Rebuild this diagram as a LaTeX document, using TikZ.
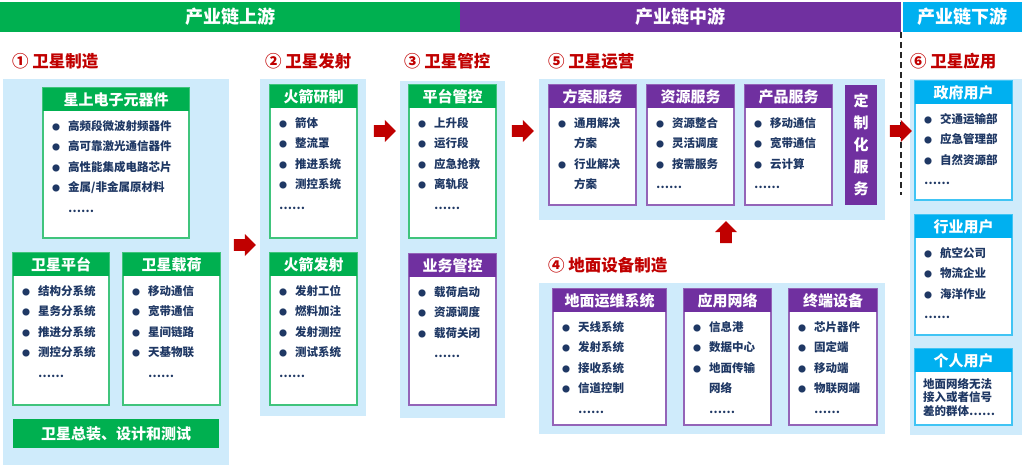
\documentclass[tikz,border=0pt]{standalone}
\usepackage{fontspec}
\setmainfont{Noto Sans CJK SC}
\usetikzlibrary{shapes.arrows}
\definecolor{cgreen}{HTML}{00B050}
\definecolor{cpurple}{HTML}{7030A0}
\definecolor{ccyan}{HTML}{00B0F0}
\definecolor{clight}{HTML}{CFEBFB}
\definecolor{cred}{HTML}{C00000}
\definecolor{cnavy}{HTML}{1F3864}
\newcommand\bul{\makebox[16pt][l]{\fontsize{8}{8}\selectfont ●}}
\newcommand\ind{\hspace*{16pt}}
\newcommand\cbox[8]{%
  \draw[#6!75, line width=1.3pt, fill=white] (#2,#3) rectangle (#4,#5);
  \fill[#6] (#2,#3) rectangle (#4,#3+23);
  \node[hdr] (#1h) at ({(#2+#4)/2},#3+11.5) {#7};
  \node[itm] (#1b) at (#2+9,#3+32) {#8};}
\begin{document}
\begin{tikzpicture}[x=1pt,y=-1pt,
  hdr/.style={text=white,font=\fontsize{15}{17}\selectfont\bfseries,inner sep=0pt},
  itm/.style={anchor=north west,align=left,text=cnavy,font=\fontsize{11.5}{20.5}\selectfont\bfseries,inner sep=0pt},
  ttl/.style={anchor=west,text=cred,font=\fontsize{16.5}{18}\selectfont\bfseries,inner sep=0pt},
  band/.style={text=white,font=\fontsize{18}{20}\selectfont\bfseries},
  panel/.style={fill=clight},
  rarr/.style={single arrow,fill=cred,draw=none,minimum height=22pt,minimum width=22pt,single arrow head extend=4pt,inner sep=4.5pt}]
\useasboundingbox (0,0) rectangle (1024,465);
% bands
\fill[cgreen] (0,2) rectangle (460,32);
\fill[cpurple] (460,2) rectangle (901,32);
\fill[ccyan] (903,2) rectangle (1022,32);
\node[band] (b1) at (230,17) {产业链上游};
\node[band] (b2) at (680,17) {产业链中游};
\node[band] (b3) at (962,17) {产业链下游};
\draw[black!85,dash pattern=on 6pt off 4pt,line width=1.3pt] (901,32) -- (901,195);
% titles
\node[ttl] (t1) at (12,61) {① 卫星制造};
\node[ttl] (t2) at (265,61) {② 卫星发射};
\node[ttl] (t3) at (404,61) {③ 卫星管控};
\node[ttl] (t5) at (548,61) {⑤ 卫星运营};
\node[ttl] (t6) at (910,61) {⑥ 卫星应用};
\node[ttl] (t4) at (548,265) {④ 地面设备制造};
% panels
\fill[panel] (3,79) rectangle (229,465);
\fill[panel] (260,79) rectangle (366,416);
\fill[panel] (400,81) rectangle (505,418);
\fill[panel] (539,79) rectangle (885,220);
\fill[panel] (539,283) rectangle (885,434);
\fill[panel] (910,79) rectangle (1022,435);
% panel 1
\cbox{e}{43}{88}{189}{238}{cgreen}{星上电子元器件}{\bul 高频段微波射频器件\\\bul 高可靠激光通信器件\\\bul 高性能集成电路芯片\\\bul 金属/非金属原材料\\\ind ……}
\cbox{pf}{13}{253}{109}{405}{cgreen}{卫星平台}{\bul 结构分系统\\\bul 星务分系统\\\bul 推进分系统\\\bul 测控分系统\\\ind ……}
\cbox{pl}{123}{253}{220}{405}{cgreen}{卫星载荷}{\bul 移动通信\\\bul 宽带通信\\\bul 星间链路\\\bul 天基物联\\\ind ……}
\fill[cgreen] (13,419) rectangle (219,448);
\node[hdr] (zz) at (116,433.5) {卫星总装、设计和测试};
% panel 2
\cbox{hy}{270}{85}{357}{238}{cgreen}{火箭研制}{\bul 箭体\\\bul 整流罩\\\bul 推进系统\\\bul 测控系统\\……}
\cbox{hf}{270}{253}{357}{405}{cgreen}{火箭发射}{\bul 发射工位\\\bul 燃料加注\\\bul 发射测控\\\bul 测试系统\\……}
% panel 3
\cbox{pt}{409}{85}{496}{238}{cgreen}{平台管控}{\bul 上升段\\\bul 运行段\\\bul 应急抢救\\\bul 离轨段\\\ind ……}
\cbox{yw}{409}{254}{496}{405}{cpurple}{业务管控}{\bul 载荷启动\\\bul 资源调度\\\bul 载荷关闭\\\ind ……}
% panel 5
\cbox{fa}{549}{85}{636}{205}{cpurple}{方案服务}{\bul 通用解决\\\ind 方案\\\bul 行业解决\\\ind 方案}
\cbox{zy}{647}{85}{734}{205}{cpurple}{资源服务}{\bul 资源整合\\\bul 灵活调度\\\bul 按需服务\\……}
\cbox{cp}{745}{85}{832}{205}{cpurple}{产品服务}{\bul 移动通信\\\bul 宽带通信\\\bul 云计算\\……}
\fill[cpurple] (845,85) rectangle (877,205);
\node[hdr,align=center,font=\fontsize{15}{22}\selectfont\bfseries] (dz) at (861,145) {定\\制\\化\\服\\务};
% panel 4
\cbox{dm}{553}{289}{666}{425}{cpurple}{地面运维系统}{\bul 天线系统\\\bul 发射系统\\\bul 接收系统\\\bul 信道控制\\\ind ……}
\cbox{yy}{684}{289}{771}{425}{cpurple}{应用网络}{\bul 信息港\\\bul 数据中心\\\bul 地面传输\\\ind 网络\\\ind ……}
\cbox{zd}{789}{289}{877}{425}{cpurple}{终端设备}{\bul 芯片器件\\\bul 固定端\\\bul 移动端\\\bul 物联网端\\\ind ……}
% panel 6
\cbox{zf}{915}{81}{1012}{200}{ccyan}{政府用户}{\bul 交通运输部\\\bul 应急管理部\\\bul 自然资源部\\……}
\cbox{hyu}{915}{215}{1012}{335}{ccyan}{行业用户}{\bul 航空公司\\\bul 物流企业\\\bul 海洋作业\\……}
\draw[ccyan!75, line width=1.3pt, fill=white] (915,349) rectangle (1012,425);
\fill[ccyan] (915,349) rectangle (1012,372);
\node[hdr] (gr) at (963.5,360.5) {个人用户};
\node[itm,font=\fontsize{11.5}{13.5}\selectfont\bfseries] (grb) at (923,378) {地面网络无法\\接入或者信号\\差的群体……};
% arrows
\node[rarr] (a1) at (242,245) {};
\node[rarr] (a2) at (382,131) {};
\node[rarr] (a3) at (520,131) {};
\node[rarr] (a4) at (898,131) {};
\node[rarr,shape border rotate=90] (a5) at (726,235) {};
\end{tikzpicture}
\end{document}
